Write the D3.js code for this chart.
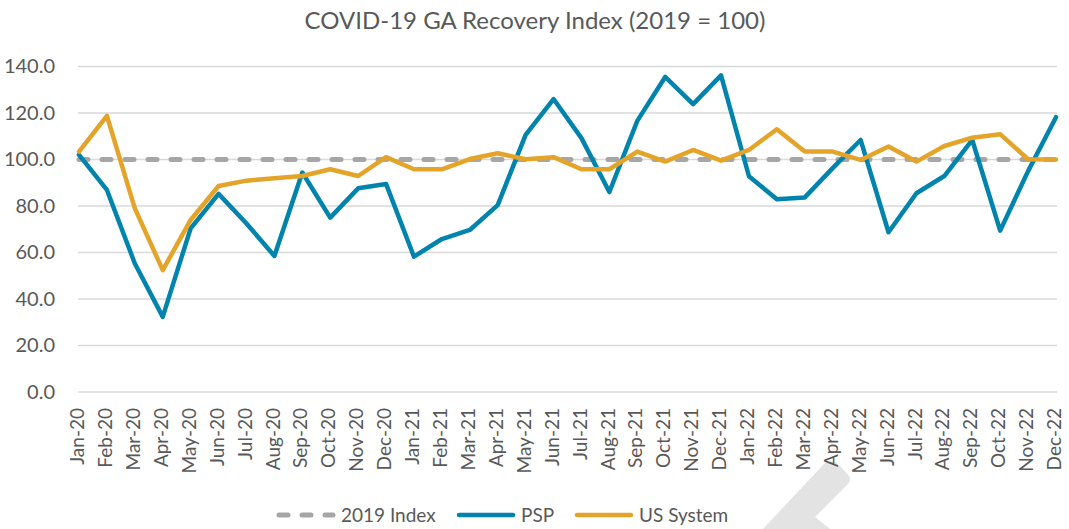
<!DOCTYPE html>
<html>
<head>
<meta charset="utf-8">
<script src="https://cdn.jsdelivr.net/npm/d3@7"></script>
<style>
  body { margin: 0; background: #fff; }
  svg text { font-family: Lato, "Open Sans", sans-serif; fill: #595959; }
</style>
</head>
<body>
<svg width="1069" height="529"></svg>
<script>
// chart data
var months = ["Jan-20","Feb-20","Mar-20","Apr-20","May-20","Jun-20","Jul-20","Aug-20","Sep-20","Oct-20","Nov-20","Dec-20",
              "Jan-21","Feb-21","Mar-21","Apr-21","May-21","Jun-21","Jul-21","Aug-21","Sep-21","Oct-21","Nov-21","Dec-21",
              "Jan-22","Feb-22","Mar-22","Apr-22","May-22","Jun-22","Jul-22","Aug-22","Sep-22","Oct-22","Nov-22","Dec-22"];

var index2019 = [100,100,100,100,100,100,100,100,100,100,100,100,
                 100,100,100,100,100,100,100,100,100,100,100,100,
                 100,100,100,100,100,100,100,100,100,100,100,100];

var psp = [102.0, 86.9, 55.3, 32.3, 70.4, 85.2, 72.5, 58.5, 94.4, 75.0, 87.6, 89.5,
           58.2, 65.8, 69.7, 80.4, 110.6, 126.0, 109.2, 86.0, 116.6, 135.5, 123.8, 136.2,
           92.8, 82.9, 83.7, 96.3, 108.4, 68.7, 85.5, 92.9, 108.4, 69.4, 95.0, 118.2];

var usSystem = [103.4, 118.8, 79.0, 52.4, 74.0, 88.6, 90.9, 91.9, 92.9, 95.8, 92.9, 101.0,
                95.8, 95.8, 100.2, 102.7, 100.1, 101.0, 95.8, 95.8, 103.4, 99.1, 104.1, 99.5,
                104.1, 113.0, 103.4, 103.4, 99.8, 105.6, 99.1, 105.8, 109.4, 110.9, 100.1, 100.0];

var yTicks = [0, 20, 40, 60, 80, 100, 120, 140];

var series = [
  {name: "2019 Index", values: index2019, color: "#A6A6A6", width: 5, dash: "9,14"},
  {name: "PSP", values: psp, color: "#0084AE", width: 4.5, dash: null},
  {name: "US System", values: usSystem, color: "#E3A429", width: 4.5, dash: null}
];

var svg = d3.select("svg"),
    margin = {top: 66.5, right: 12, bottom: 137, left: 79},
    width = +svg.attr("width") - margin.left - margin.right,
    height = +svg.attr("height") - margin.top - margin.bottom,
    g = svg.append("g").attr("transform", "translate(" + margin.left + "," + margin.top + ")");

var x = d3.scalePoint()
    .domain(months)
    .range([0, width - 1]);

var y = d3.scaleLinear()
    .domain([0, 140])
    .range([height, 0]);

// title
svg.append("text")
    .attr("x", 535)
    .attr("y", 29)
    .attr("text-anchor", "middle")
    .style("font-size", "24px")
    .text("COVID-19 GA Recovery Index (2019 = 100)");

// gridlines
g.append("g")
    .selectAll("line")
    .data(yTicks)
    .enter().append("line")
    .attr("x1", -1)
    .attr("x2", width)
    .attr("y1", function(d) { return y(d); })
    .attr("y2", function(d) { return y(d); })
    .attr("stroke", "#D9D9D9")
    .attr("stroke-width", 1.3);

// y axis labels
var yAxis = g.append("g")
    .call(d3.axisLeft(y).tickValues(yTicks).tickSize(0).tickFormat(d3.format(".1f")));
yAxis.select(".domain").remove();
yAxis.selectAll("text")
    .style("font-size", "20px")
    .style("font-family", "Lato, sans-serif")
    .attr("fill", "#595959")
    .attr("x", -24);

// x axis labels, rotated
var xAxis = g.append("g")
    .attr("transform", "translate(0," + height + ")")
    .call(d3.axisBottom(x).tickSize(0));
xAxis.select(".domain").remove();
xAxis.selectAll("text")
    .style("font-size", "19px")
    .style("font-family", "Lato, sans-serif")
    .attr("fill", "#595959")
    .attr("transform", "rotate(-90)")
    .attr("text-anchor", "end")
    .attr("x", -16)
    .attr("y", -2)
    .attr("dy", "0.35em");

var line = d3.line()
    .x(function(d, i) { return x(months[i]); })
    .y(function(d) { return y(d); });

series.forEach(function(s) {
  g.append("path")
    .datum(s.values)
    .attr("fill", "none")
    .attr("stroke", s.color)
    .attr("stroke-width", s.width)
    .attr("stroke-linejoin", "round")
    .attr("stroke-linecap", "round")
    .attr("stroke-dasharray", s.dash)
    .attr("d", line);
});

// legend
var legendX = [277, 457, 575];
var legend = svg.append("g").attr("transform", "translate(0,515)");
series.forEach(function(s, i) {
  legend.append("line")
    .attr("x1", legendX[i] + 2)
    .attr("x2", legendX[i] + 56)
    .attr("stroke", s.color)
    .attr("stroke-width", s.width)
    .attr("stroke-linecap", "round")
    .attr("stroke-dasharray", s.dash);
  legend.append("text")
    .attr("x", legendX[i] + 64)
    .attr("dy", "0.35em")
    .style("font-size", "19px")
    .text(s.name);
});

// light grey watermark chevron in the lower right
svg.append("path")
    .attr("d", "M823,465 Q831,457 840,466 L849,476 Q852,481 846,486 L815,517 L830,529 L763,529 Z")
    .attr("fill", "#E3E3E3")
    .lower();
</script>
</body>
</html>
